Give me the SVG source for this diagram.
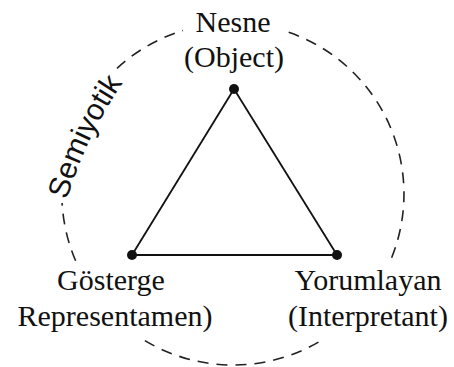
<svg xmlns="http://www.w3.org/2000/svg" width="454" height="367" viewBox="0 0 454 367">
<style>
.serif{font-family:"Liberation Serif","Times New Roman",serif;font-size:30px;fill:#111;text-anchor:middle}
.sans{font-family:"Liberation Sans",Arial,sans-serif;font-size:30px;fill:#111}
.dash{fill:none;stroke:#222;stroke-width:1.6;stroke-dasharray:11 8}
.edge{fill:none;stroke:#111;stroke-width:1.8}
.dot{fill:#111}
</style>
<defs>
<path id="semiPath" d="M 67 200 A 420 420 0 0 1 129 74"/>
</defs>
<rect width="454" height="367" fill="#fff"/>
<g id="boundary">
<path class="dash" d="M 117 68.3 A 171 171 0 0 1 183 30.5"/>
<path class="dash" d="M 288.7 32.3 A 171 171 0 0 1 389.2 263.5"/>
<path class="dash" d="M 318.5 342.1 A 171 171 0 0 1 144.9 340.6"/>
<path class="dash" d="M 75.6 260.8 A 171 171 0 0 1 62.1 203"/>
<text class="sans"><textPath href="#semiPath">Semiyotik</textPath></text>
</g>
<g id="connectors">
<line class="edge" x1="234" y1="89" x2="132" y2="255"/>
<line class="edge" x1="234" y1="89" x2="337" y2="255"/>
<line class="edge" x1="132" y1="255" x2="337" y2="255"/>
</g>
<g id="node-object">
<circle class="dot" cx="234" cy="89" r="5"/>
<text class="serif" x="233" y="32">Nesne</text>
<text class="serif" x="234" y="67">(Object)</text>
</g>
<g id="node-representamen">
<circle class="dot" cx="132" cy="255" r="5"/>
<text class="serif" x="111" y="290">Gösterge</text>
<text class="serif" x="115" y="326">Representamen)</text>
</g>
<g id="node-interpretant">
<circle class="dot" cx="337" cy="255" r="5"/>
<text class="serif" x="368" y="290">Yorumlayan</text>
<text class="serif" x="368" y="326">(Interpretant)</text>
</g>
</svg>
